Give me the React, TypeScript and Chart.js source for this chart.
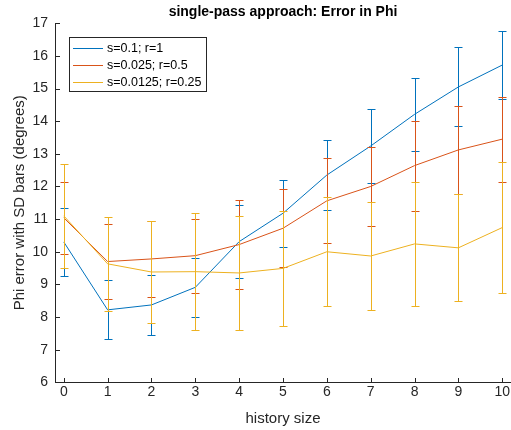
import React, { useEffect, useRef } from "react";
import { Chart, registerables } from "chart.js";

Chart.register(...registerables);

// ---- data ----
const historySizes = [0, 1, 2, 3, 4, 5, 6, 7, 8, 9, 10];
const seriesLabels = ["s=0.1; r=1", "s=0.025; r=0.5", "s=0.0125; r=0.25"];
const seriesColors = ["#0072BD", "#D95319", "#EDB120"];
const meanA = [10.3, 8.22, 8.37, 8.91, 10.31, 11.18, 12.35, 13.24, 14.21, 15.05, 15.72];
const sdA = [1.03, 0.9, 0.93, 0.9, 1.12, 1.03, 1.08, 1.13, 1.12, 1.21, 1.05];
const meanB = [11.04, 9.7, 9.78, 9.88, 10.22, 10.72, 11.56, 12.0, 12.64, 13.12, 13.45];
const sdB = [1.11, 1.15, 1.17, 1.13, 1.37, 1.2, 1.3, 1.22, 1.38, 1.34, 1.3];
const meanC = [11.1, 9.63, 9.38, 9.39, 9.35, 9.49, 10.0, 9.87, 10.24, 10.12, 10.74];
const sdC = [1.6, 1.44, 1.55, 1.79, 1.76, 1.75, 1.67, 1.66, 1.89, 1.64, 2.0];
const xTickValues = [0, 1, 2, 3, 4, 5, 6, 7, 8, 9, 10];
const yTickValues = [6, 7, 8, 9, 10, 11, 12, 13, 14, 15, 16, 17];

const means = [meanA, meanB, meanC];
const sds = [sdA, sdB, sdC];

const FONT = "'Liberation Sans', Arial, Helvetica, sans-serif";
const AXIS_COLOR = "#262626";

const errorBarPlugin = {
  id: "errorBars",
  afterDatasetDraw(chart: any, args: any) {
    const i = args.index;
    const sd = sds[i];
    const m = means[i];
    if (!sd) return;
    const ctx = chart.ctx;
    const xs = chart.scales.x;
    const ys = chart.scales.y;
    ctx.save();
    ctx.strokeStyle = seriesColors[i];
    ctx.lineWidth = 1;
    const cap = 4;
    historySizes.forEach((xv, k) => {
      const x = Math.round(xs.getPixelForValue(xv)) + 0.5;
      const yt = Math.round(ys.getPixelForValue(m[k] + sd[k])) + 0.5;
      const yb = Math.round(ys.getPixelForValue(m[k] - sd[k])) + 0.5;
      ctx.beginPath();
      ctx.moveTo(x, yt);
      ctx.lineTo(x, yb);
      ctx.moveTo(x - cap, yt);
      ctx.lineTo(x + cap, yt);
      ctx.moveTo(x - cap, yb);
      ctx.lineTo(x + cap, yb);
      ctx.stroke();
    });
    ctx.restore();
  },
};

const innerTicksPlugin = {
  id: "innerTicks",
  afterDraw(chart: any) {
    const ctx = chart.ctx;
    const xs = chart.scales.x;
    const ys = chart.scales.y;
    const area = chart.chartArea;
    const len = 4.5;
    ctx.save();
    ctx.strokeStyle = AXIS_COLOR;
    ctx.lineWidth = 1;
    ctx.beginPath();
    const bottom = Math.round(area.bottom) + 0.5;
    const left = Math.round(area.left) + 0.5;
    xTickValues.forEach((v) => {
      const x = Math.round(xs.getPixelForValue(v)) + 0.5;
      ctx.moveTo(x, bottom);
      ctx.lineTo(x, bottom - len);
    });
    yTickValues.forEach((v) => {
      const y = Math.round(ys.getPixelForValue(v)) + 0.5;
      ctx.moveTo(left, y);
      ctx.lineTo(left + len, y);
    });
    ctx.stroke();
    ctx.restore();
  },
};

const boxLegendPlugin = {
  id: "boxLegend",
  afterDraw(chart: any) {
    const ctx = chart.ctx;
    const bx = 69.5, by = 37.5, bw = 137, bh = 54;
    ctx.save();
    ctx.fillStyle = "#ffffff";
    ctx.fillRect(bx, by, bw, bh);
    ctx.strokeStyle = AXIS_COLOR;
    ctx.lineWidth = 1;
    ctx.strokeRect(bx, by, bw, bh);
    ctx.font = `12.5px ${FONT}`;
    ctx.textBaseline = "middle";
    ctx.textAlign = "left";
    const rows = [48.5, 65.5, 82.5];
    seriesLabels.forEach((lab, i) => {
      const y = rows[i];
      ctx.strokeStyle = seriesColors[i];
      ctx.beginPath();
      ctx.moveTo(73, y);
      ctx.lineTo(103, y);
      ctx.stroke();
      ctx.fillStyle = "#000000";
      ctx.fillText(lab, 107, y + 0.5);
    });
    ctx.restore();
  },
};

export default function App() {
  const ref = useRef<HTMLCanvasElement | null>(null);

  useEffect(() => {
    if (!ref.current) return;
    const chart = new Chart(ref.current, {
      type: "line",
      data: {
        datasets: seriesLabels.map((label, i) => ({
          label,
          data: historySizes.map((x, k) => ({ x, y: means[i][k] })),
          borderColor: seriesColors[i],
          backgroundColor: seriesColors[i],
          borderWidth: 1,
          pointRadius: 0,
          tension: 0,
          fill: false,
          order: 3 - i,
        })),
      },
      options: {
        animation: false,
        responsive: false,
        events: [],
        layout: { padding: 0 },
        plugins: {
          legend: { display: false },
          tooltip: { enabled: false },
          title: {
            display: true,
            text: "single-pass approach: Error in Phi",
            fullSize: false,
            color: "#000000",
            font: { family: FONT, size: 14, weight: "bold" },
            padding: { top: 3.5, bottom: 3 },
          } as any,
        },
        scales: {
          x: {
            type: "linear",
            min: -0.2,
            max: 10.2,
            afterBuildTicks: (scale: any) => {
              scale.ticks = xTickValues.map((v) => ({ value: v }));
            },
            afterFit: (scale: any) => {
              scale.height = 47.7;
            },
            grid: { display: false, drawTicks: false },
            border: { display: true, color: AXIS_COLOR, width: 1 },
            ticks: {
              color: AXIS_COLOR,
              font: { family: FONT, size: 14 },
              padding: 1,
              maxRotation: 0,
              autoSkip: false,
            },
            title: {
              display: true,
              text: "history size",
              color: AXIS_COLOR,
              font: { family: FONT, size: 15 },
              padding: { top: 0, bottom: 2 },
            },
          },
          y: {
            type: "linear",
            min: 6,
            max: 17,
            afterBuildTicks: (scale: any) => {
              scale.ticks = yTickValues.map((v) => ({ value: v }));
            },
            afterFit: (scale: any) => {
              scale.width = 55;
            },
            grid: { display: false, drawTicks: false },
            border: { display: true, color: AXIS_COLOR, width: 1 },
            ticks: {
              color: AXIS_COLOR,
              font: { family: FONT, size: 14 },
              padding: 7,
              autoSkip: false,
            },
            title: {
              display: true,
              text: "Phi error with SD bars (degrees)",
              color: AXIS_COLOR,
              font: { family: FONT, size: 15 },
              padding: { top: 11, bottom: 0 },
            },
          },
        },
      },
      plugins: [errorBarPlugin, innerTicksPlugin, boxLegendPlugin],
    });
    return () => chart.destroy();
  }, []);

  return (
    <div style={{ position: "fixed", left: 0, top: 0, width: 511, height: 430, background: "#ffffff" }}>
      <canvas ref={ref} width={511} height={430} style={{ display: "block" }} />
    </div>
  );
}
